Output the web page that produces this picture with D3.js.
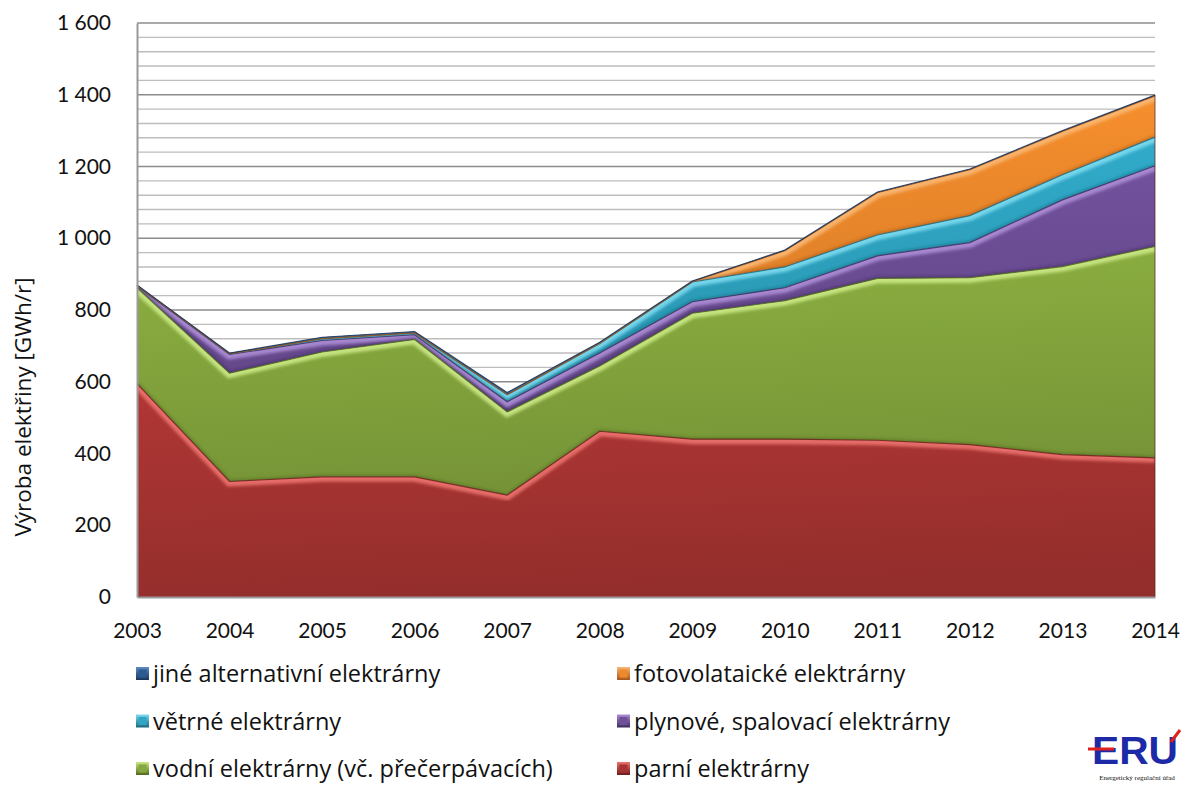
<!DOCTYPE html>
<html>
<head>
<meta charset="utf-8">
<script src="https://cdn.jsdelivr.net/npm/d3@7"></script>
<style>
  html, body { margin: 0; padding: 0; background: #ffffff; }
  svg { display: block; font-family: "Open Sans", Lato, sans-serif; }
</style>
</head>
<body>
<svg id="chart" width="1186" height="785"></svg>
<script>
// Electricity production by plant type, GWh per year
const years = [2003, 2004, 2005, 2006, 2007, 2008, 2009, 2010, 2011, 2012, 2013, 2014];
const parni    = [595, 322, 335, 335, 284, 462, 440, 440, 437, 425, 397, 388];
const vodni    = [267, 302, 348, 383, 232, 182, 351, 386, 451, 465, 524, 589];
const plynove  = [5, 52, 32, 13, 28, 36, 32, 36, 63, 98, 186, 225];
const vetrne   = [1, 2, 5, 5, 20, 27, 55, 58, 58, 75, 70, 80];
const foto     = [0, 0, 0, 0, 0, 0, 1, 45, 118, 128, 121, 115];
const jine     = [2, 2, 4, 4, 6, 3, 2, 2, 2, 2, 2, 2];

const yTicks = [0, 200, 400, 600, 800, 1000, 1200, 1400, 1600];
const yLabel = "Výroba elektřiny [GWh/r]";

// stacking order, bottom to top
const series = [
  { key: "parni",   name: "parní elektrárny",                       values: parni,   color: "#a83432", light: "#ec726e", dark: "#6e1c1a" },
  { key: "vodni",   name: "vodní elektrárny (vč. přečerpávacích)",  values: vodni,   color: "#86a83e", light: "#cbe985", dark: "#4f6a1c" },
  { key: "plynove", name: "plynové, spalovací elektrárny",          values: plynove, color: "#6e4f98", light: "#ad8ed6", dark: "#3e2a5e" },
  { key: "vetrne",  name: "větrné elektrárny",                      values: vetrne,  color: "#2fa6c4", light: "#7cdaf0", dark: "#1a6a80" },
  { key: "foto",    name: "fotovolataické elektrárny",              values: foto,    color: "#ef8a2c", light: "#f9b873", dark: "#a8561a" },
  { key: "jine",    name: "jiné alternativní elektrárny",           values: jine,    color: "#2c5a92", light: "#5f8cc4", dark: "#1a355a" }
];

const legendLeft  = ["jine", "vetrne", "vodni"];
const legendRight = ["foto", "plynove", "parni"];

const svg = d3.select("#chart");
const margin = { left: 137, right: 1155, top: 23, bottom: 597 };

const x = d3.scaleLinear().domain([2003, 2014]).range([margin.left, margin.right]);
const y = d3.scaleLinear().domain([0, 1600]).range([margin.bottom, margin.top]);

const table = years.map((yr, i) => {
  const row = { year: yr };
  series.forEach(s => row[s.key] = s.values[i]);
  return row;
});
const stack = d3.stack().keys(series.map(s => s.key));
const layers = stack(table);

const defs = svg.append("defs");
defs.append("filter").attr("id", "soft")
  .attr("x", "-5%").attr("y", "-5%").attr("width", "110%").attr("height", "110%")
  .append("feGaussianBlur").attr("stdDeviation", 1.6);

// gridlines: minor every 40, major every 200
const grid = svg.append("g");
d3.range(0, 1601, 40).forEach(v => {
  if (v === 0) return;
  const major = v % 200 === 0;
  grid.append("line")
    .attr("x1", margin.left).attr("x2", margin.right)
    .attr("y1", y(v)).attr("y2", y(v))
    .attr("stroke", major ? "#8c8c8c" : "#bdbdbd")
    .attr("stroke-width", major ? 1.6 : 1.4);
});

const area = d3.area()
  .x((d, i) => x(years[i]))
  .y0(d => y(d[0]))
  .y1(d => y(d[1]));
const topLine = d3.line()
  .x((d, i) => x(years[i]))
  .y(d => y(d[1]));
const botLine = d3.line()
  .x((d, i) => x(years[i]))
  .y(d => y(d[0]));

const plot = svg.append("g");
layers.forEach((layer, li) => {
  const s = series[li];
  const gid = "grad-" + s.key;
  const g = defs.append("linearGradient").attr("id", gid)
    .attr("x1", 0).attr("y1", 0).attr("x2", 0.15).attr("y2", 1);
  g.append("stop").attr("offset", "0%").attr("stop-color", d3.color(s.color).brighter(0.15));
  g.append("stop").attr("offset", "100%").attr("stop-color", d3.color(s.color).darker(0.35));

  defs.append("clipPath").attr("id", "clip-" + s.key)
    .append("path").attr("d", area(layer));

  plot.append("path")
    .attr("d", area(layer))
    .attr("fill", `url(#${gid})`);

  // bevel highlight along the upper edge of each band
  plot.append("path")
    .attr("d", topLine(layer))
    .attr("fill", "none")
    .attr("stroke", s.light)
    .attr("stroke-width", 10)
    .attr("stroke-opacity", 0.9)
    .attr("filter", "url(#soft)")
    .attr("clip-path", `url(#clip-${s.key})`);

  // dark rim along the lower edge inside the band
  if (li > 0) {
    plot.append("path")
      .attr("d", botLine(layer))
      .attr("fill", "none")
      .attr("stroke", s.dark)
      .attr("stroke-width", 4)
      .attr("stroke-opacity", 0.55)
      .attr("filter", "url(#soft)")
      .attr("clip-path", `url(#clip-${s.key})`);
  }
});

// outline for each band's upper edge
layers.forEach((layer, li) => {
  const s = series[li];
  plot.append("path")
    .attr("d", topLine(layer))
    .attr("fill", "none")
    .attr("stroke", s.dark)
    .attr("stroke-width", 1.2)
    .attr("stroke-opacity", 0.8);
});

// right-edge shading of the stack
const total = layers[layers.length - 1];
plot.append("line")
  .attr("x1", margin.right).attr("x2", margin.right)
  .attr("y1", y(0)).attr("y2", y(total[total.length - 1][1]))
  .attr("stroke", "#5a2a20").attr("stroke-width", 1.5).attr("stroke-opacity", 0.5);

// axes
const yAxis = d3.axisLeft(y).tickValues(yTicks).tickSize(0).tickPadding(26)
  .tickFormat(d => d3.format(",")(d).replace(",", "\u00a0"));
const yG = svg.append("g").attr("transform", `translate(${margin.left},0)`).call(yAxis);
yG.select(".domain").attr("stroke", "#9a9a9a").attr("stroke-width", 2);
yG.selectAll("text").attr("font-size", 21).attr("fill", "#111").attr("font-family", "Lato, sans-serif");

const xAxis = d3.axisBottom(x).tickValues(years).tickSize(0).tickPadding(26).tickFormat(d3.format("d"));
const xG = svg.append("g").attr("transform", `translate(0,${margin.bottom})`).call(xAxis);
xG.select(".domain").attr("stroke", "#9a9a9a").attr("stroke-width", 2);
xG.selectAll("text").attr("font-size", 21).attr("fill", "#111").attr("font-family", "Lato, sans-serif");

svg.append("text")
  .attr("transform", `translate(31,${(margin.top + margin.bottom) / 2 + 97}) rotate(-90)`)
  .attr("text-anchor", "middle")
  .attr("font-size", 22.5)
  .attr("fill", "#111")
  .text(yLabel);

// legend
const byKey = Object.fromEntries(series.map(s => [s.key, s]));
function legendItem(key, lx, ly) {
  const s = byKey[key];
  const gid = "lg-" + key;
  const g = defs.append("linearGradient").attr("id", gid).attr("x1", 0).attr("y1", 0).attr("x2", 0).attr("y2", 1);
  g.append("stop").attr("offset", "0%").attr("stop-color", s.light);
  g.append("stop").attr("offset", "100%").attr("stop-color", s.dark);
  const item = svg.append("g").attr("transform", `translate(${lx},${ly})`);
  item.append("rect").attr("x", 0).attr("y", -15).attr("width", 13).attr("height", 13)
    .attr("fill", `url(#${gid})`);
  item.append("rect").attr("x", 2.5).attr("y", -12.5).attr("width", 8).attr("height", 8)
    .attr("fill", s.color);
  item.append("text").attr("x", 17).attr("y", 0)
    .attr("font-size", 23.5).attr("fill", "#111")
    .text(s.name);
}
const rowsY = [682, 729.5, 777];
legendLeft.forEach((k, i) => legendItem(k, 136, rowsY[i]));
legendRight.forEach((k, i) => legendItem(k, 617, rowsY[i]));

// ERÚ logo
const logo = svg.append("g").attr("transform", "translate(1092,732)");
logo.append("text").attr("x", 0).attr("y", 31.5)
  .attr("font-family", "'Liberation Sans Narrow', 'Liberation Sans', sans-serif")
  .attr("font-weight", "bold").attr("font-size", 39).attr("fill", "#1c2aa8")
  .attr("textLength", 86).attr("lengthAdjust", "spacingAndGlyphs")
  .text("ERU");
logo.append("line").attr("x1", -4).attr("x2", 22).attr("y1", 17).attr("y2", 17)
  .attr("stroke", "#e0201c").attr("stroke-width", 3);
logo.append("line").attr("x1", 79).attr("x2", 88).attr("y1", 10).attr("y2", -2)
  .attr("stroke", "#e0201c").attr("stroke-width", 3);
logo.append("text").attr("x", 45).attr("y", 47.5)
  .attr("text-anchor", "middle")
  .attr("font-family", "'Liberation Serif', serif").attr("font-size", 7).attr("fill", "#111")
  .text("Energetický regulační úřad");
</script>
</body>
</html>
